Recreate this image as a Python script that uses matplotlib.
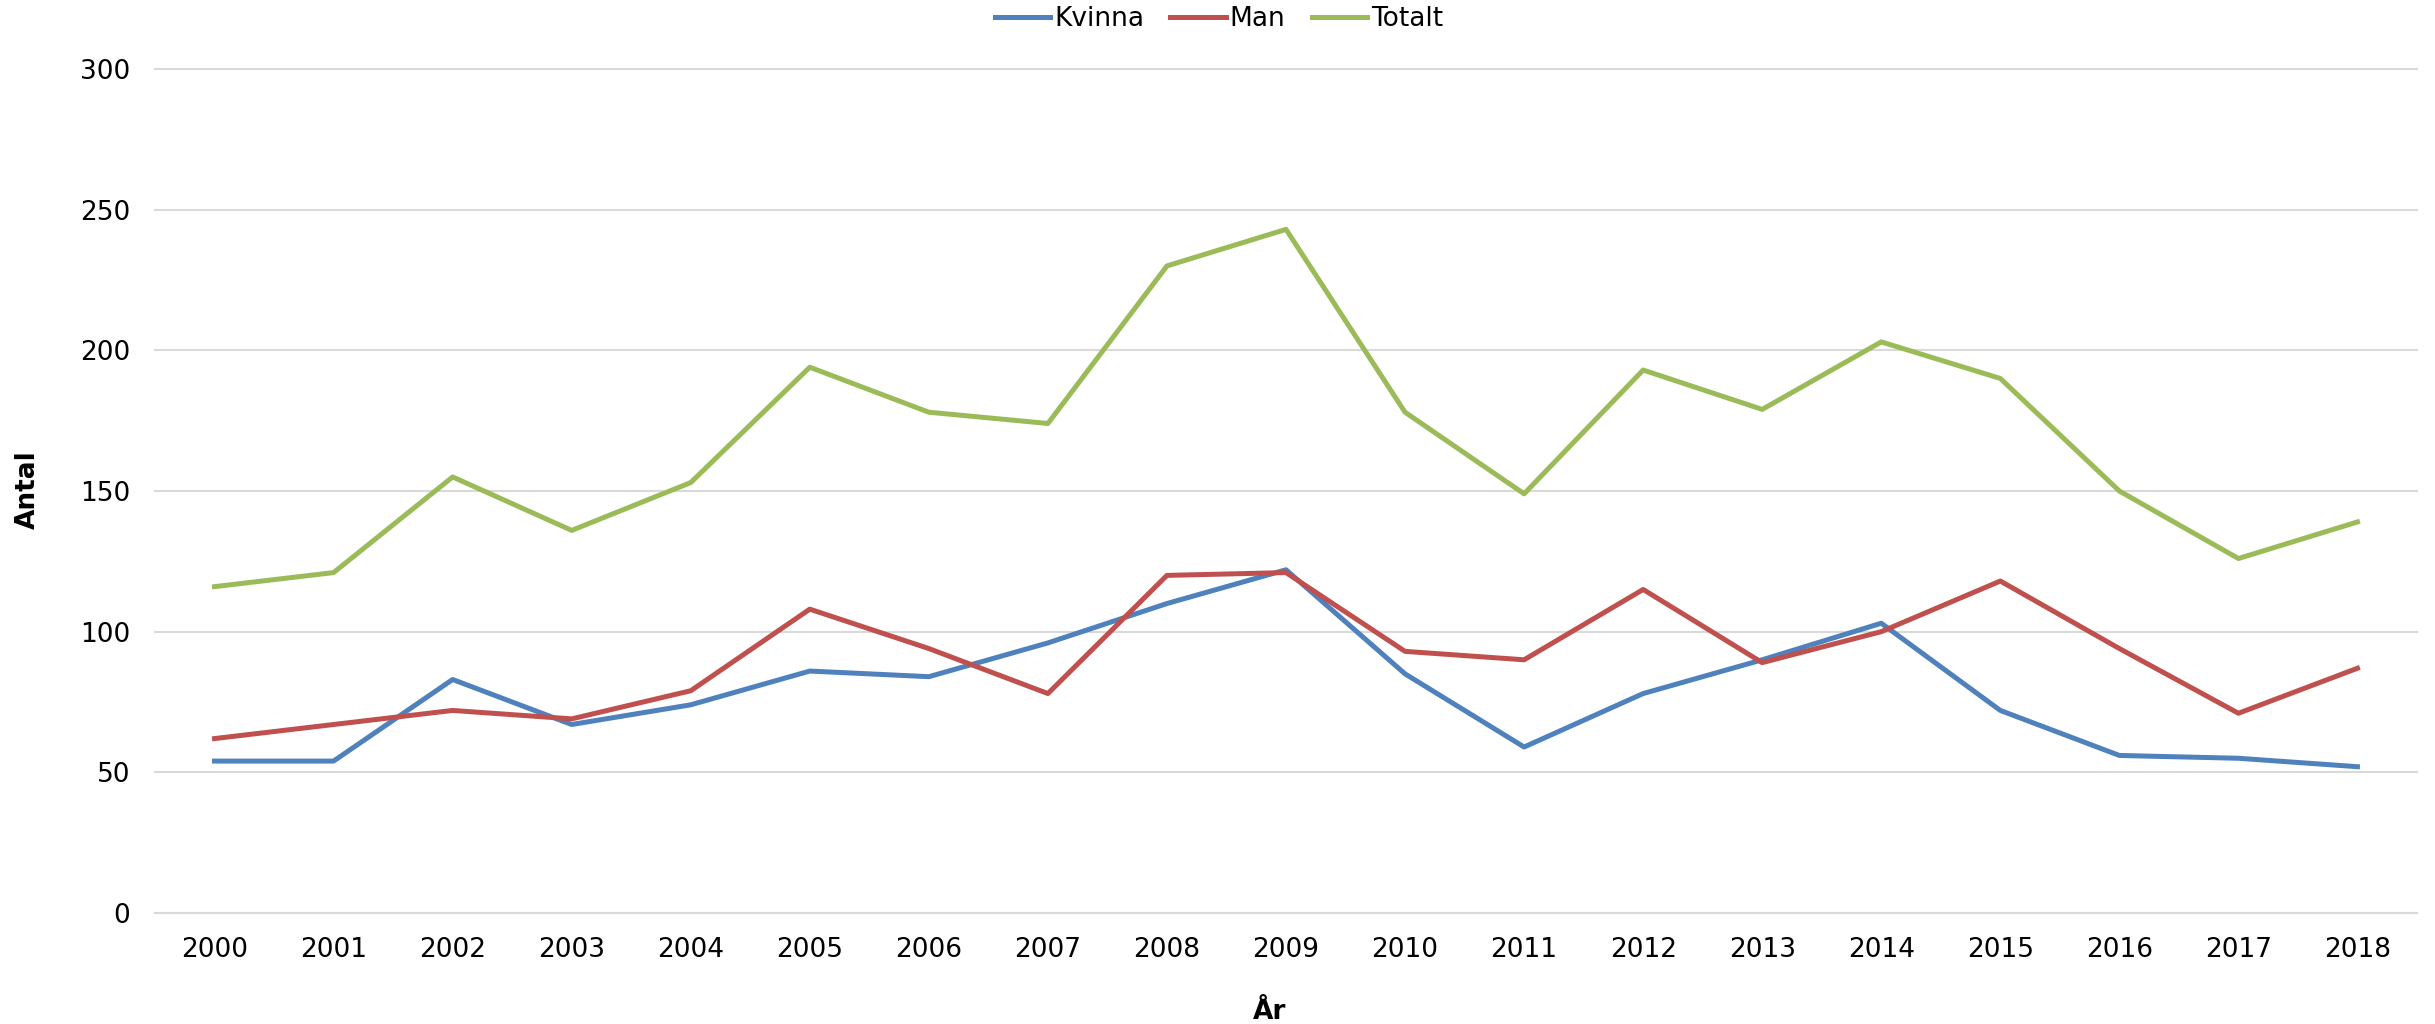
import numpy as np
import matplotlib
matplotlib.use("Agg")
import matplotlib.pyplot as plt

years = [str(y) for y in range(2000, 2019)]
kvinna = [54, 54, 83, 67, 74, 86, 84, 96, 110, 122, 85, 59, 78, 90, 103, 72, 56, 55, 52]
man = [62, 67, 72, 69, 79, 108, 94, 78, 120, 121, 93, 90, 115, 89, 100, 118, 94, 71, 87]
totalt = [116, 121, 155, 136, 153, 194, 178, 174, 230, 243, 178, 149, 193, 179, 203, 190, 150, 126, 139]

plt.rcParams['font.family'] = ['DejaVu Sans']

fig = plt.figure(figsize=(24.35, 10.24), dpi=100)
ax = fig.add_axes([155 / 2435, 1 - 913 / 1024, (2417 - 155) / 2435, (913 - 69) / 1024])

x = np.arange(len(years))
ax.plot(x, kvinna, color='#4F81BD', lw=3.6, label='Kvinna', solid_joinstyle='round')
ax.plot(x, man, color='#C0504D', lw=3.6, label='Man', solid_joinstyle='round')
ax.plot(x, totalt, color='#9BBB59', lw=3.6, label='Totalt', solid_joinstyle='round')

ax.set_xlim(-0.5, len(years) - 0.5)
ax.set_ylim(0, 300)
ax.set_yticks(range(0, 301, 50))
ax.set_xticks(x)
ax.set_xticklabels(years)
ax.tick_params(axis='both', length=0, labelsize=19)
ax.tick_params(axis='x', pad=17)
ax.tick_params(axis='y', pad=18)
ax.grid(axis='y', color='#D9D9D9', lw=1.5)
for gl in ax.get_ygridlines():
    gl.set_clip_on(False)
ax.set_axisbelow(True)
for s in ['top', 'right', 'left']:
    ax.spines[s].set_visible(False)
ax.spines['bottom'].set_color('#D9D9D9')
ax.spines['bottom'].set_linewidth(1.5)

fig.text(28 / 2435, 1 - 490 / 1024, 'Antal', rotation=90, fontsize=19, fontweight='bold',
         ha='center', va='center')
fig.text(1270 / 2435, 1 - 1012 / 1024, 'År', fontsize=19, fontweight='bold',
         ha='center', va='center')

fig.legend(loc='center', bbox_to_anchor=(1219 / 2435, 1 - 19 / 1024), ncol=3, frameon=False,
           fontsize=19, handlelength=2.1, handletextpad=0.15, columnspacing=1.0)

fig.savefig('out.png', dpi=100)
